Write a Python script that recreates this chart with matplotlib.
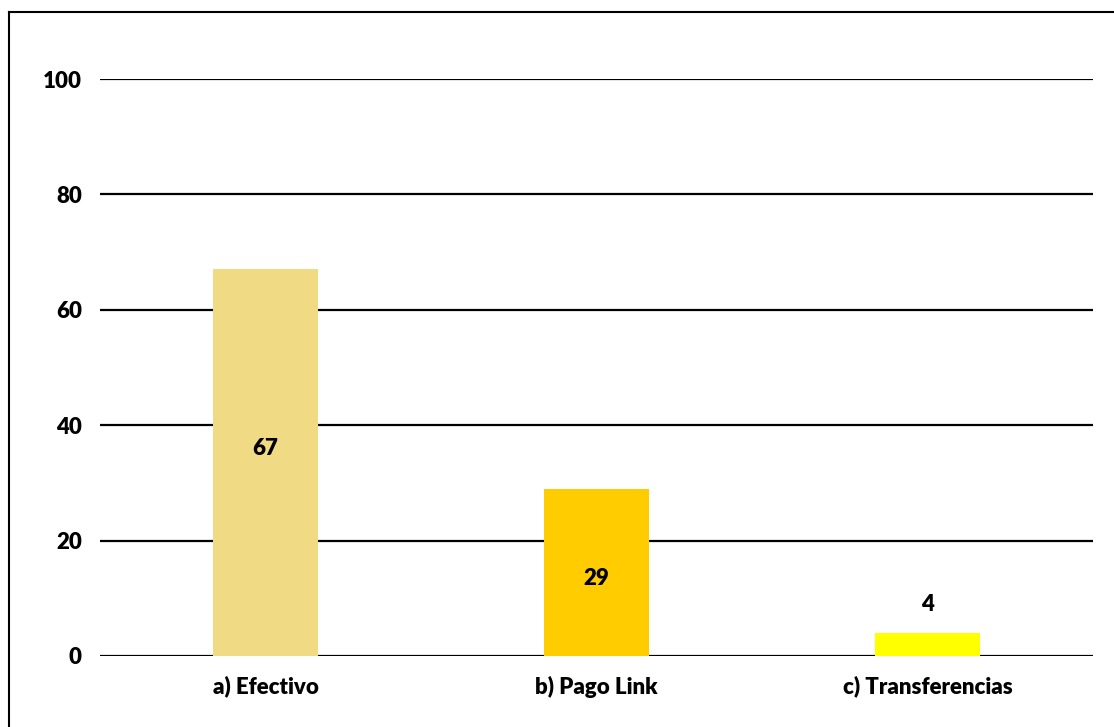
import matplotlib.pyplot as plt
import numpy as np
from matplotlib.lines import Line2D

categories = ["a) Efectivo", "b) Pago Link", "c) Transferencias"]
values = [67, 29, 4]
colors = ["#F0DA84", "#FFCC00", "#FFFF00"]
yticks = [0, 20, 40, 60, 80, 100]
# small vertical nudges for the value labels (data units)
label_nudge = [2.5, -1.0, 0.0]

plt.rcParams["font.family"] = ["Lato", "DejaVu Sans"]

FS = 16
W = "heavy"

fig = plt.figure(figsize=(11.14, 7.27), dpi=100)
ax = fig.add_axes([100 / 1114, (727 - 656) / 727, 993 / 1114, (656 - 79) / 727])

x = np.arange(len(categories))
ax.bar(x, values, width=0.315, color=colors, zorder=2)

ax.set_xlim(-0.5, 2.5)
ax.set_ylim(0, 100)
ax.set_yticks(yticks)
ax.set_xticks(x)
ax.set_xticklabels(categories, fontsize=FS, fontweight=W)
ax.tick_params(axis="y", labelsize=FS, length=0, pad=13)
ax.tick_params(axis="x", length=0, pad=14)
for lbl in ax.get_yticklabels():
    lbl.set_fontweight(W)

for y in yticks:
    ax.axhline(y, color="black", linewidth=1.6, zorder=1)
for s in ax.spines.values():
    s.set_visible(False)

# value labels: centred inside tall bars, above the short one
for xi, v, dn in zip(x, values, label_nudge):
    ypos = v / 2 + dn if v > 10 else v + 5
    ax.text(xi, ypos, str(v), ha="center", va="center",
            fontsize=FS, fontweight=W, zorder=3)

# outer frame (left and top edges)
fig.add_artist(Line2D([9 / 1114, 9 / 1114], [0, 1 - 12 / 727],
                      transform=fig.transFigure, color="black", linewidth=1.5))
fig.add_artist(Line2D([9 / 1114, 1], [1 - 12 / 727, 1 - 12 / 727],
                      transform=fig.transFigure, color="black", linewidth=1.5))

fig.savefig("out.png", dpi=100)
